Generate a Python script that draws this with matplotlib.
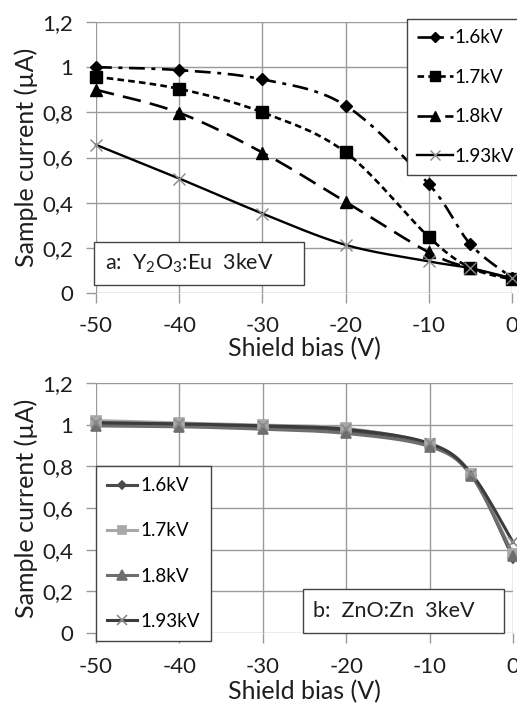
import numpy as np
import matplotlib
matplotlib.use("Agg")
import matplotlib.pyplot as plt
from matplotlib.lines import Line2D
from matplotlib.patches import Rectangle

plt.rcParams['font.family'] = ['Lato', 'DejaVu Sans']
plt.rcParams['mathtext.fontset'] = 'custom'
plt.rcParams['mathtext.rm'] = 'Lato'

# ---------------- data ----------------
bias = [-50, -40, -30, -20, -10, -5, 0]
series_labels = ['1.6kV', '1.7kV', '1.8kV', '1.93kV']

a_16 = [1.00, 0.987, 0.946, 0.830, 0.482, 0.216, 0.068]
a_17 = [0.958, 0.904, 0.800, 0.623, 0.248, 0.112, 0.060]
a_18 = [0.900, 0.798, 0.622, 0.404, 0.180, 0.110, 0.065]
a_193 = [0.656, 0.507, 0.352, 0.213, 0.140, 0.110, 0.065]

b_16 = [1.005, 0.998, 0.988, 0.970, 0.900, 0.760, 0.360]
b_17 = [1.020, 1.008, 0.998, 0.982, 0.908, 0.765, 0.380]
b_18 = [0.994, 0.990, 0.978, 0.958, 0.895, 0.755, 0.372]
b_193 = [1.010, 1.004, 0.994, 0.978, 0.910, 0.765, 0.435]

yticks = [0, 0.2, 0.4, 0.6, 0.8, 1.0, 1.2]
ytick_labels = ['0', '0,2', '0,4', '0,6', '0,8', '1', '1,2']
xticks = [-50, -40, -30, -20, -10, 0]
xtick_labels = ['-50', '-40', '-30', '-20', '-10', '0']

TICK_FS = 16
LABEL_FS = 18
LEG_FS = 13.5
BOX_FS = 15.5
GRID = '#9a9a9a'
TXT = '#1e1e1e'

W, H = 517, 705


def smooth(xs, ys, ax_w=8.0, ax_h=2.7, n=24):
    """Excel-like smoothed line (Bezier with 1/6 tension) in a scaled space."""
    x = np.asarray(xs, float) / 50.0 * ax_w
    y = np.asarray(ys, float) / 1.2 * ax_h
    P = np.column_stack([x, y])
    out = [P[0]]
    for i in range(len(P) - 1):
        p0 = P[i - 1] if i > 0 else P[i]
        p1 = P[i]
        p2 = P[i + 1]
        p3 = P[i + 2] if i + 2 < len(P) else P[i + 1]
        c1 = p1 + (p2 - p0) / 6.0
        c2 = p2 - (p3 - p1) / 6.0
        t = np.linspace(0, 1, n)[1:, None]
        pts = ((1 - t) ** 3) * p1 + 3 * ((1 - t) ** 2) * t * c1 + 3 * (1 - t) * t ** 2 * c2 + t ** 3 * p2
        out.extend(pts)
    out = np.array(out)
    return out[:, 0] * 50.0 / ax_w, out[:, 1] * 1.2 / ax_h


def style_axes(ax, xpad, xlabelpad):
    ax.set_xlim(-50, 0)
    ax.set_ylim(0, 1.2)
    ax.set_xticks(xticks)
    ax.set_xticklabels(xtick_labels)
    ax.set_yticks(yticks)
    ax.set_yticklabels(ytick_labels)
    ax.grid(True, color=GRID, lw=1.0)
    ax.set_axisbelow(True)
    for s in ax.spines.values():
        s.set_visible(False)
    ax.tick_params(axis='both', direction='out', length=7.5, width=1.0, color=GRID,
                   labelsize=TICK_FS, labelcolor=TXT)
    ax.tick_params(axis='x', pad=xpad)
    ax.tick_params(axis='y', pad=9)
    ax.set_xlabel('Shield bias (V)', fontsize=LABEL_FS, color=TXT, labelpad=xlabelpad)
    ax.set_ylabel('Sample current (µA)', fontsize=LABEL_FS, color=TXT, labelpad=3)


def fig_box(fig, x0, y0, x1, y1, text, tx):
    # pixel coords (top-left origin) -> figure fraction
    fig.patches.append(Rectangle((x0 / W, 1 - y1 / H), (x1 - x0) / W, (y1 - y0) / H,
                                 transform=fig.transFigure, fc='white', ec='#444444',
                                 lw=1.0, zorder=5))
    fig.text(tx / W, 1 - (y0 + y1) / 2 / H, text, fontsize=BOX_FS, color=TXT,
             va='center', ha='left', zorder=6)


fig = plt.figure(figsize=(W / 100, H / 100), dpi=100)

# ---------------- panel a ----------------
ax1 = fig.add_axes([96 / W, 1 - 293 / H, 416 / W, 271 / H])
style_axes(ax1, xpad=9, xlabelpad=1)

a_series = [a_16, a_17, a_18, a_193]
a_styles = [
    dict(color='black', lw=1.9, dashes=(6, 2.5, 1.5, 2.5), marker='D', ms=6, mfc='black', mec='black'),
    dict(color='black', lw=1.9, dashes=(2.5, 1.6), marker='s', ms=8, mfc='black', mec='black'),
    dict(color='black', lw=1.9, dashes=(7, 3.5), marker='^', ms=8, mfc='black', mec='black'),
    dict(color='black', lw=1.7, marker='x', ms=8, mfc='#888888', mec='#888888', mew=1.0),
]
handles = []
for ys, st, lab in zip(a_series, a_styles, series_labels):
    xs_s, ys_s = smooth(bias, ys)
    line_kw = dict(color=st['color'], lw=st['lw'])
    if 'dashes' in st:
        line_kw['dashes'] = st['dashes']
    else:
        line_kw['linestyle'] = '-'
    ax1.plot(xs_s, ys_s, clip_on=False, zorder=3, **line_kw)
    ax1.plot(bias, ys, linestyle='none', marker=st['marker'], ms=st['ms'],
             mfc=st['mfc'], mec=st['mec'], mew=st.get('mew', 1.0), clip_on=False, zorder=4)
    handles.append(Line2D([], [], marker=st['marker'], ms=st['ms'] - 1, mfc=st['mfc'], mec=st['mec'],
                          mew=st.get('mew', 1.0), **line_kw))

leg1 = fig.legend(handles, series_labels, loc='upper left',
                  bbox_to_anchor=(407 / W, 1 - 19 / H), bbox_transform=fig.transFigure,
                  fontsize=LEG_FS, frameon=True, fancybox=False, framealpha=1,
                  edgecolor='#444444', handlelength=1.9, handletextpad=0.1,
                  labelspacing=1.2, borderpad=0.55, borderaxespad=0)
leg1.get_frame().set_linewidth(1.0)

fig_box(fig, 94, 242, 304, 285, 'a:  Y$_\\mathregular{2}$O$_\\mathregular{3}$:Eu  3keV', 105)

# ---------------- panel b ----------------
ax2 = fig.add_axes([96 / W, 1 - 633 / H, 417 / W, 250 / H])
style_axes(ax2, xpad=10, xlabelpad=2)

b_series = [b_16, b_17, b_18, b_193]
b_styles = [
    dict(color='#4a4a4a', marker='D', ms=5.5, mfc='#4a4a4a', mec='#4a4a4a'),
    dict(color='#a8a8a8', marker='s', ms=7, mfc='#a8a8a8', mec='#a8a8a8'),
    dict(color='#6e6e6e', marker='^', ms=7.5, mfc='#6e6e6e', mec='#6e6e6e'),
    dict(color='#3c3c3c', marker='x', ms=7.5, mfc='#8a8a8a', mec='#8a8a8a'),
]
handles2 = []
for ys, st, lab in zip(b_series, b_styles, series_labels):
    xs_s, ys_s = smooth(bias, ys)
    ax2.plot(xs_s, ys_s, color=st['color'], lw=2.2, clip_on=False, zorder=3)
    ax2.plot(bias, ys, linestyle='none', marker=st['marker'], ms=st['ms'],
             mfc=st['mfc'], mec=st['mec'], mew=1.2, clip_on=False, zorder=4)
    handles2.append(Line2D([], [], color=st['color'], lw=2.2, marker=st['marker'], ms=st['ms'] - 1,
                           mfc=st['mfc'], mec=st['mec'], mew=1.2))

leg2 = fig.legend(handles2, series_labels, loc='upper left',
                  bbox_to_anchor=(96 / W, 1 - 466 / H), bbox_transform=fig.transFigure,
                  fontsize=LEG_FS, frameon=True, fancybox=False, framealpha=1,
                  edgecolor='#444444', handlelength=1.6, handletextpad=0.15,
                  labelspacing=1.5, borderpad=0.6, borderaxespad=0)
leg2.get_frame().set_linewidth(1.0)

fig_box(fig, 303, 589, 504, 633, 'b:  ZnO:Zn  3keV', 313)

fig.savefig('out.png', dpi=100, facecolor='white')
